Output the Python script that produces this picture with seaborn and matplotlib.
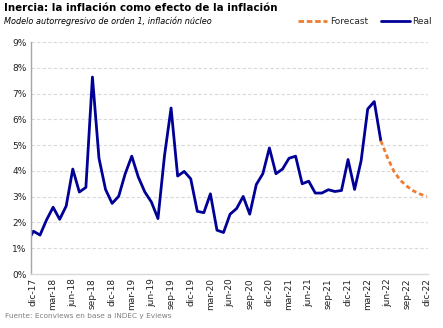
import numpy as np
import pandas as pd
import matplotlib
matplotlib.use("Agg")
import matplotlib.pyplot as plt
import seaborn as sns
from matplotlib.lines import Line2D

sns.set_theme(style="white")
plt.rcParams['font.family'] = ['DejaVu Sans']

# Month index: 0 = dic-17 ... 60 = dic-22 (index -1 = nov-17, clipped by the axis)
real_month = list(range(-1, 54))
real_values = [1.20, 1.66, 1.51, 2.10, 2.59, 2.12, 2.64, 4.07, 3.18, 3.36,
               7.64, 4.49, 3.28, 2.74, 3.01, 3.89, 4.57, 3.76, 3.18, 2.79,
               2.15, 4.60, 6.44, 3.80, 3.98, 3.69, 2.43, 2.38, 3.11, 1.70,
               1.61, 2.32, 2.54, 3.01, 2.32, 3.47, 3.89, 4.89, 3.89, 4.07,
               4.49, 4.57, 3.50, 3.60, 3.14, 3.14, 3.27, 3.20, 3.24, 4.44,
               3.28, 4.40, 6.40, 6.69, 5.17]
forecast_month = list(range(53, 61))
forecast_values = [5.17, 4.53, 3.98, 3.63, 3.40, 3.22, 3.10, 3.01]

tick_labels = ["dic-17", "mar-18", "jun-18", "sep-18", "dic-18", "mar-19", "jun-19",
               "sep-19", "dic-19", "mar-20", "jun-20", "sep-20", "dic-20", "mar-21",
               "jun-21", "sep-21", "dic-21", "mar-22", "jun-22", "sep-22", "dic-22"]
y_ticks = [0, 1, 2, 3, 4, 5, 6, 7, 8, 9]

real_df = pd.DataFrame({"mes": real_month, "valor": real_values})
fc_df = pd.DataFrame({"mes": forecast_month, "valor": forecast_values})

navy = "#000096"
orange = "#ED7D31"

fig = plt.figure(figsize=(4.43, 3.28), dpi=100)
ax = fig.add_axes([30.5 / 443, 1 - 274 / 328, (428 - 30.5) / 443, (274 - 42) / 328])

sns.lineplot(data=real_df, x="mes", y="valor", ax=ax, color=navy, linewidth=2.0)
sns.lineplot(data=fc_df, x="mes", y="valor", ax=ax, color=orange, linewidth=2.0,
             linestyle=(0, (1.6, 1.1)))

ax.set_xlim(-0.45, 60.2)
ax.set_ylim(0, 9)
ax.set_yticks(y_ticks)
ax.set_yticklabels([f"{v}%" for v in y_ticks], fontsize=6.5, color="#222222")
ax.set_xticks(list(range(0, 61, 3)))
ax.set_xticklabels(tick_labels, rotation=90, fontsize=6.5, color="#222222")
ax.tick_params(axis="both", length=0, pad=3)
ax.set_xlabel("")
ax.set_ylabel("")
ax.grid(axis="y", color="#d9d9d9", linestyle=(0, (3, 2)), linewidth=0.8)
ax.set_axisbelow(True)
for s in ["top", "right"]:
    ax.spines[s].set_visible(False)
ax.spines["left"].set_color("#a6a6a6")
ax.spines["bottom"].set_color("#d9d9d9")
ax.spines["left"].set_linewidth(1.0)
ax.spines["bottom"].set_linewidth(1.0)

fig.text(4 / 443, 1 - 3 / 328, "Inercia: la inflación como efecto de la inflación",
         fontsize=7.4, fontweight="bold", ha="left", va="top", color="#000000")
fig.text(4 / 443, 1 - 17 / 328, "Modelo autorregresivo de orden 1, inflación núcleo",
         fontsize=5.9, fontstyle="italic", ha="left", va="top", color="#000000")
fig.text(5 / 443, 1 - 313 / 328, "Fuente: Econviews en base a INDEC y Eviews",
         fontsize=5.3, ha="left", va="top", color="#7f7f7f")

handles = [Line2D([], [], color=orange, linewidth=2.0, linestyle=(0, (2, 1))),
           Line2D([], [], color=navy, linewidth=2.0)]
fig.legend(handles, ["Forecast", "Real"], loc="center right",
           bbox_to_anchor=(432 / 443, 1 - 22 / 328), ncol=2, frameon=False,
           fontsize=6.5, handlelength=3.2, handletextpad=0.3, columnspacing=1.4,
           borderaxespad=0, borderpad=0)

fig.savefig("out.png", dpi=100)
